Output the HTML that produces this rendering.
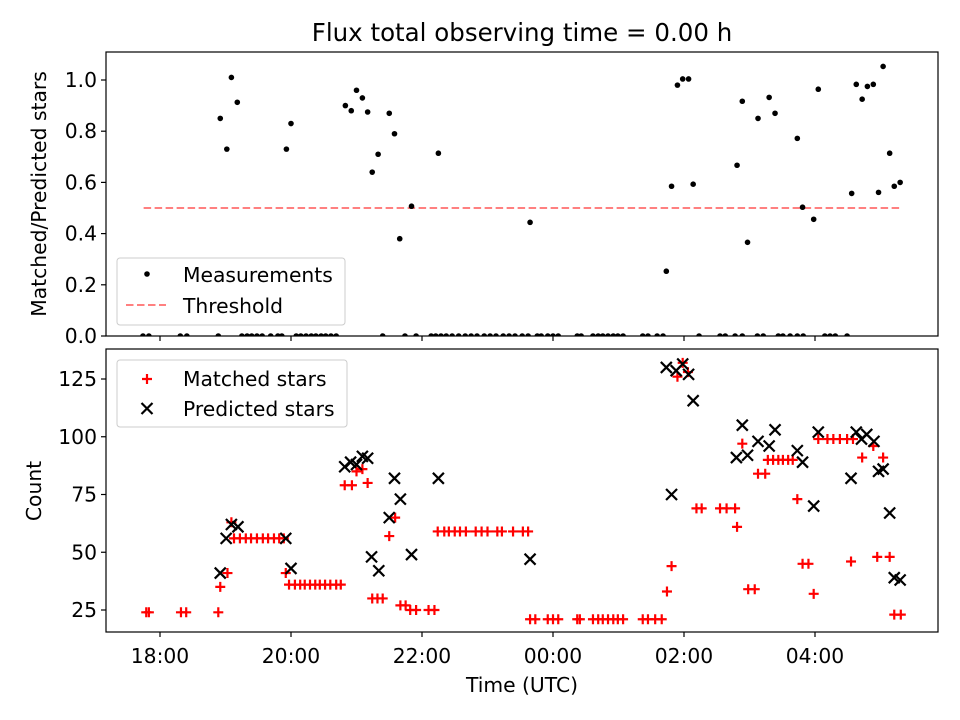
<!DOCTYPE html>
<html><head><meta charset="utf-8"><style>
body{margin:0;background:#fff;}
svg{display:block;font-family:"DejaVu Sans","Liberation Sans",sans-serif;}
</style></head><body>
<svg id="chart" width="960" height="720" viewBox="0 0 960 720" xmlns="http://www.w3.org/2000/svg"></svg>
<script>
// ---- data (times in hours since previous midnight; >24 = next day) ----
const measTimes = [19.09,19.18,18.92,19.02,19.93,20.00,20.83,20.92,21.00,21.09,21.17,21.50,21.58,21.33,21.24,21.84,21.66,22.25,23.65,25.73,25.81,25.90,25.98,26.07,26.14,26.81,26.89,26.97,27.13,27.30,27.39,27.73,27.81,27.98,28.05,28.56,28.63,28.72,28.80,28.89,28.97,29.04,29.14,29.21,29.30];
const measValues = [1.01,0.913,0.85,0.73,0.73,0.83,0.90,0.88,0.96,0.93,0.875,0.87,0.79,0.71,0.64,0.507,0.38,0.714,0.444,0.253,0.585,0.98,1.004,1.004,0.593,0.667,0.917,0.366,0.85,0.932,0.87,0.772,0.503,0.456,0.964,0.557,0.983,0.925,0.975,0.983,0.561,1.053,0.714,0.585,0.60];
const zeroTimes = [17.74,17.83,18.31,18.41,18.89,19.25,19.33,19.40,19.48,19.56,19.69,19.80,19.86,20.08,20.15,20.23,20.31,20.38,20.46,20.53,20.61,20.69,21.40,21.74,21.91,22.14,22.21,22.29,22.37,22.46,22.56,22.66,22.75,22.84,22.95,23.04,23.13,23.24,23.33,23.42,23.53,23.62,23.76,23.82,23.92,24.00,24.08,24.37,24.43,24.61,24.69,24.76,24.84,24.92,24.99,25.07,25.37,25.45,25.59,25.68,26.23,26.55,26.63,26.78,26.89,27.12,27.21,27.44,27.51,27.62,27.73,27.82,28.15,28.23,28.31,28.49];
const threshold = 0.5;
const thresholdRange = [17.75, 29.3];

const matchedTimes = [17.79,17.83,18.32,18.40,18.89,18.92,19.03,19.09,19.13,19.22,19.31,19.39,19.48,19.57,19.65,19.74,19.82,19.89,19.92,19.97,20.06,20.14,20.21,20.29,20.37,20.44,20.52,20.60,20.69,20.76,20.82,20.93,21.00,21.09,21.17,21.24,21.32,21.40,21.50,21.59,21.67,21.75,21.82,21.91,22.10,22.19,22.24,22.34,22.41,22.50,22.58,22.67,22.82,22.91,23.00,23.15,23.22,23.39,23.54,23.62,23.65,23.73,23.92,24.00,24.08,24.37,24.41,24.61,24.69,24.76,24.84,24.92,24.99,25.07,25.37,25.45,25.56,25.66,25.74,25.81,25.90,25.98,26.06,26.19,26.27,26.55,26.65,26.78,26.81,26.89,26.98,27.08,27.13,27.24,27.28,27.36,27.44,27.51,27.59,27.66,27.73,27.81,27.90,27.98,28.05,28.19,28.28,28.38,28.49,28.58,28.55,28.72,28.89,28.95,29.04,29.14,29.21,29.31];
const matchedValues = [24,24,24,24,24,35,41,63,56,56,56,56,56,56,56,56,56,56,41,36,36,36,36,36,36,36,36,36,36,36,79,79,85,86,80,30,30,30,57,65,27,27,25,25,25,25,59,59,59,59,59,59,59,59,59,59,59,59,59,59,21,21,21,21,21,21,21,21,21,21,21,21,21,21,21,21,21,21,33,44,126,132,128,69,69,69,69,69,61,97,34,34,84,84,90,90,90,90,90,90,73,45,45,32,99,99,99,99,99,99,46,91,96,48,91,48,23,23];
const predTimes = [18.92,19.01,19.09,19.19,19.92,20.00,20.82,20.91,21.00,21.09,21.17,21.23,21.34,21.50,21.58,21.67,21.84,22.25,23.65,25.73,25.81,25.88,25.98,26.07,26.14,26.80,26.89,26.97,27.13,27.30,27.39,27.73,27.81,27.98,28.05,28.55,28.63,28.71,28.79,28.90,28.97,29.04,29.14,29.21,29.30];
const predValues = [41,56,62,61,56,43,87,89,88,91.5,90.7,48,42,65,82,73,49,82,47,130,75,128.6,131.5,127,115.6,91,105,92,98,96,103,94,89,70,102,82,102,99,101,98,85,86,67,39,38];
const xTickHours = [18,20,22,24,26,28];
const xTickLabels = ["18:00","20:00","22:00","00:00","02:00","04:00"];
const topTicks = [0,0.2,0.4,0.6,0.8,1.0];
const topTickLabels = ["0.0","0.2","0.4","0.6","0.8","1.0"];
const botTicks = [25,50,75,100,125];
const botTickLabels = ["25","50","75","100","125"];

// ---- layout ----
const L=106,R=938, T1=52,B1=336, T2=349,B2=632;
const FS=20.3;
const xs = h => 160 + (h-18)*65.5;
const y1 = v => 336 - v*256;
const y2 = v => 610 - (v-25)*2.31;
const NS="http://www.w3.org/2000/svg";
const svg=document.getElementById('chart');
function el(tag,attrs,parent){const e=document.createElementNS(NS,tag);for(const k in attrs)e.setAttribute(k,attrs[k]);(parent||svg).appendChild(e);return e;}
function txt(s,attrs,parent){const e=el('text',attrs,parent);e.textContent=s;return e;}

// title
let t=txt("Flux total observing time = 0.00 h",{x:522,y:41,'text-anchor':'middle','font-size':24.5,fill:'#000'});


// ---- top panel ----
const gTop=el('g',{});

const cp1=el('clipPath',{id:'c1'});el('rect',{x:L,y:T1-5,width:R-L,height:B1-T1+5},cp1);
const thr=el('line',{x1:xs(thresholdRange[0]),x2:xs(thresholdRange[1]),y1:y1(threshold),y2:y1(threshold),stroke:'#ff8080','stroke-width':2,'stroke-dasharray':'7.5,3.5'},gTop);

const gm=el('g',{'clip-path':'url(#c1)'},gTop);

measTimes.forEach((h,i)=>{const c=el('circle',{cx:xs(h),cy:y1(measValues[i]),r:2.8,fill:'#000'},gm);

});
zeroTimes.forEach(h=>{const c=el('circle',{cx:xs(h),cy:y1(0),r:2.8,fill:'#000'},gm);

});
const f1=el('rect',{x:L,y:T1,width:R-L,height:B1-T1,fill:'none',stroke:'#000','stroke-width':1.2},gTop);

topTicks.forEach((v,i)=>{el('line',{x1:L-5,x2:L,y1:y1(v),y2:y1(v),stroke:'#000','stroke-width':1.2},gTop);
const tl=txt(topTickLabels[i],{x:L-9,y:y1(v)+7,'text-anchor':'end','font-size':FS},gTop);

});
xTickHours.forEach(h=>{el('line',{x1:xs(h),x2:xs(h),y1:B1,y2:B1+5,stroke:'#000','stroke-width':1.2},gTop);});
t=txt("Matched/Predicted stars",{transform:'translate(46,194) rotate(-90)','text-anchor':'middle','font-size':FS},gTop);

// legend top
const lg1=el('g',{},gTop);
el('rect',{x:117,y:258,width:228,height:67,rx:3,fill:'#fff','fill-opacity':0.8,stroke:'#ccc'},lg1);
el('circle',{cx:147,cy:274,r:2.8,fill:'#000'},lg1);
txt("Measurements",{x:183,y:282,'font-size':FS},lg1);
el('line',{x1:126,x2:166,y1:305,y2:305,stroke:'#ff8080','stroke-width':2,'stroke-dasharray':'7.5,3.5'},lg1);
txt("Threshold",{x:183,y:313,'font-size':FS},lg1);

// ---- bottom panel ----
const gB=el('g',{});

const gMa=el('g',{stroke:'#ff0000','stroke-width':2.2},gB);

matchedTimes.forEach((h,i)=>{const x=xs(h),y=y2(matchedValues[i]);
const p=el('path',{d:`M${x-5},${y}H${x+5}M${x},${y-5}V${y+5}`,fill:'none'},gMa);

});
const gPr=el('g',{stroke:'#000','stroke-width':2.2},gB);

predTimes.forEach((h,i)=>{const x=xs(h),y=y2(predValues[i]),s=5.5;
const p=el('path',{d:`M${x-s},${y-s}L${x+s},${y+s}M${x-s},${y+s}L${x+s},${y-s}`,fill:'none'},gPr);

});
const f2=el('rect',{x:L,y:T2,width:R-L,height:B2-T2,fill:'none',stroke:'#000','stroke-width':1.2},gB);

botTicks.forEach((v,i)=>{el('line',{x1:L-5,x2:L,y1:y2(v),y2:y2(v),stroke:'#000','stroke-width':1.2},gB);
const tl=txt(botTickLabels[i],{x:L-9,y:y2(v)+7,'text-anchor':'end','font-size':FS},gB);

});
xTickHours.forEach((h,i)=>{el('line',{x1:xs(h),x2:xs(h),y1:B2,y2:B2+5,stroke:'#000','stroke-width':1.2},gB);
const tl=txt(xTickLabels[i],{x:xs(h),y:B2+31,'text-anchor':'middle','font-size':FS},gB);

});
t=txt("Count",{transform:'translate(41,491) rotate(-90)','text-anchor':'middle','font-size':FS},gB);

t=txt("Time (UTC)",{x:522,y:692,'text-anchor':'middle','font-size':FS},gB);

// legend bottom
const lg2=el('g',{},gB);
el('rect',{x:117,y:360,width:230,height:67,rx:3,fill:'#fff','fill-opacity':0.8,stroke:'#ccc'},lg2);
el('path',{d:'M142,379H152M147,374V384',stroke:'#ff0000','stroke-width':2.2,fill:'none'},lg2);
txt("Matched stars",{x:183,y:386,'font-size':FS},lg2);
el('path',{d:'M141.5,403L152.5,414M141.5,414L152.5,403',stroke:'#000','stroke-width':2.2,fill:'none'},lg2);
txt("Predicted stars",{x:183,y:416,'font-size':FS},lg2);
</script>
</body></html>
